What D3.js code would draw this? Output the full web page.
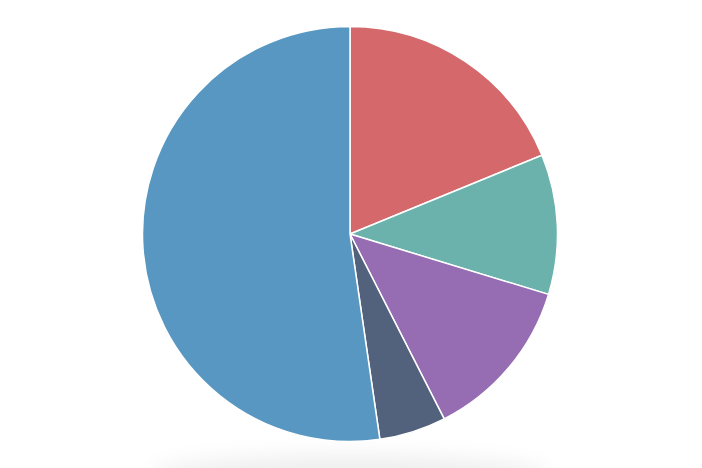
<!DOCTYPE html>
<html>
<head>
<meta charset="utf-8">
<script src="https://cdn.jsdelivr.net/npm/d3@7"></script>
<style>
  html, body { margin: 0; padding: 0; background: #fff; overflow: hidden; }
  svg { display: block; }
</style>
</head>
<body>
<svg id="chart" width="702" height="468"></svg>
<script>
const categories = ["A", "B", "C", "D", "E"];
const values = [18.8, 10.9, 12.8, 5.2, 52.3];
const colors = ["#d5686b", "#6ab2ab", "#966cb3", "#52617c", "#5797c1"];

const width = 702, height = 468;
const cx = 350, cy = 234, radius = 207.5;

const svg = d3.select("#chart");

// soft shadow beneath the chart
const defs = svg.append("defs");
const blur = defs.append("filter").attr("id", "blur")
  .attr("x", "-50%").attr("y", "-50%").attr("width", "200%").attr("height", "200%");
blur.append("feGaussianBlur").attr("stdDeviation", 12);
svg.append("ellipse")
  .attr("cx", cx).attr("cy", 478)
  .attr("rx", 200).attr("ry", 22)
  .attr("fill", "#000").attr("opacity", 0.07)
  .attr("filter", "url(#blur)");

const data = categories.map((c, i) => ({ name: c, value: values[i], color: colors[i] }));

const pie = d3.pie().value(d => d.value).sort(null).startAngle(0).endAngle(2 * Math.PI);
const arc = d3.arc().innerRadius(0).outerRadius(radius);

const g = svg.append("g").attr("transform", `translate(${cx},${cy})`);
g.selectAll("path")
  .data(pie(data))
  .join("path")
  .attr("d", arc)
  .attr("fill", d => d.data.color)
  .attr("stroke", "#fff")
  .attr("stroke-width", 1.5)
  .attr("stroke-linejoin", "round");
</script>
</body>
</html>
